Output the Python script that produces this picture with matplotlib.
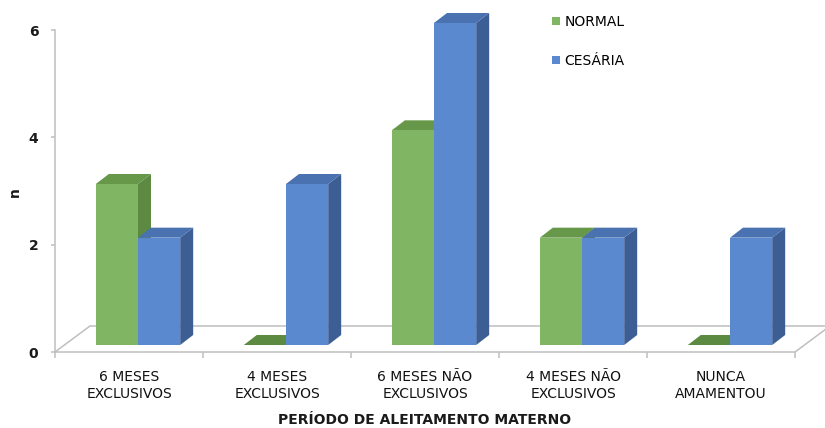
import numpy as np
import matplotlib
matplotlib.use("Agg")
import matplotlib.pyplot as plt
from matplotlib.patches import Polygon, Patch
from matplotlib import transforms

# data
categorias = ["6 MESES\nEXCLUSIVOS", "4 MESES\nEXCLUSIVOS", "6 MESES NÃO\nEXCLUSIVOS",
              "4 MESES NÃO\nEXCLUSIVOS", "NUNCA\nAMAMENTOU"]
normal = [3, 0, 4, 2, 0]
cesaria = [2, 3, 6, 2, 2]
series_names = ["NORMAL", "CESÁRIA"]
yticks = [0, 2, 4, 6]

# colours: front, side, top
cores = [("#80b563", "#5b8a40", "#67984a"),
         ("#5a89cf", "#3c5e94", "#4a71b0")]
grid_col = "#bfbfbf"

W, H = 825, 428
fig = plt.figure(figsize=(W / 100, H / 100), dpi=100)
px_cat = 148.0          # pixels per category
px_val = 322.0 / 6      # pixels per unit of n
left_px, base_px, top_px = 55, 352, 30
ax = fig.add_axes([left_px / W, (H - base_px) / H, (W - left_px) / W, (base_px - top_px) / H])
ax.set_xlim(-0.5, -0.5 + (W - left_px) / px_cat)
ax.set_ylim(0, 6)

n = len(categorias)
# floor depth and bar offsets (px -> data units)
fdx, fdy = 35 / px_cat, 26 / px_val
sx, sy = 9 / px_cat, 7 / px_val
bdx, bdy = 13 / px_cat, 10 / px_val
w = 0.285

# floor
fl = [(-0.5, 0), (-0.5 + fdx, fdy), (n - 0.5 + fdx, fdy), (n - 0.5, 0)]
ax.add_patch(Polygon(fl, closed=False, fill=False, edgecolor=grid_col, lw=1.1,
                     clip_on=False, zorder=1))
ax.plot([-0.5, n - 0.5], [0, 0], color=grid_col, lw=1.1, clip_on=False, zorder=1)


def bar3d(x0, v, c):
    f, s, t = c
    y0 = sy
    side = [(x0 + w, y0), (x0 + w + bdx, y0 + bdy), (x0 + w + bdx, y0 + v + bdy), (x0 + w, y0 + v)]
    top = [(x0, y0 + v), (x0 + bdx, y0 + v + bdy), (x0 + w + bdx, y0 + v + bdy), (x0 + w, y0 + v)]
    if v > 0:
        ax.add_patch(Polygon(side, closed=True, facecolor=s, edgecolor="none", clip_on=False, zorder=2))
        ax.add_patch(Polygon(top, closed=True, facecolor=t, edgecolor="none", clip_on=False, zorder=2))
        ax.bar(x0, v, width=w, bottom=y0, align="edge", color=f, edgecolor="none", clip_on=False, zorder=2)
    else:
        ax.add_patch(Polygon(top, closed=True, facecolor=s, edgecolor="none", clip_on=False, zorder=2))


for i in range(n):
    for k, vals in enumerate([normal, cesaria]):
        x0 = i - w + k * w + sx
        bar3d(x0, vals[i], cores[k])

# axes styling
for sp in ["top", "right", "bottom"]:
    ax.spines[sp].set_visible(False)
ax.spines["left"].set_color(grid_col)
ax.spines["left"].set_linewidth(1.1)
ax.set_yticks(yticks)
ax.set_yticklabels([str(t) for t in yticks], fontsize=10, fontweight="bold", color="#1a1a1a")
ax.tick_params(axis="y", length=3, width=1.1, color=grid_col, pad=9)

ax.set_xticks(range(n))
ax.set_xticklabels(categorias, fontsize=10, color="#111111", linespacing=1.3)
ax.set_xticks(np.arange(n + 1) - 0.5, minor=True)
ax.tick_params(axis="x", which="major", length=0, pad=13)
ax.tick_params(axis="x", which="minor", length=4, width=1.1, color=grid_col)

tr = transforms.blended_transform_factory(ax.transData, fig.transFigure)
ax.text((n - 1) / 2, (H - 420) / H, "PERÍODO DE ALEITAMENTO MATERNO", transform=tr,
        ha="center", va="center", fontsize=10, fontweight="bold", color="#1a1a1a")
fig.text(15 / W, 1 - 192 / H, "n", rotation=90, ha="center", va="center",
         fontsize=10, fontweight="bold", color="#1a1a1a")

handles = [Patch(facecolor=cores[k][0], edgecolor="none") for k in range(2)]
ax.legend(handles, series_names, loc="upper left", bbox_to_anchor=(545 / W, 1 - 8 / H),
          bbox_transform=fig.transFigure, frameon=False, fontsize=10, borderpad=0,
          handlelength=0.6, handleheight=0.6, handletextpad=0.3, labelspacing=1.8)

fig.savefig("out.png", dpi=100)
